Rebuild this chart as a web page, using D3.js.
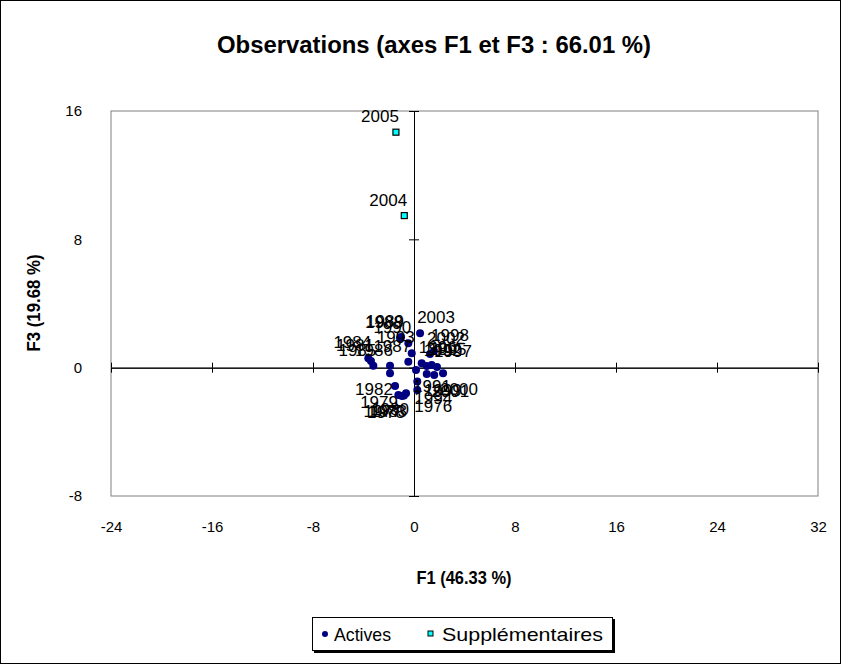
<!DOCTYPE html>
<html>
<head>
<meta charset="utf-8">
<script src="https://cdn.jsdelivr.net/npm/d3@7"></script>
<style>
  body { margin: 0; background: #fff; }
  svg text { font-family: Arial, "Liberation Sans", sans-serif; }
</style>
</head>
<body>
<div id="chart"></div>
<script>
// Active observations (F1, F3 coordinates)
var activeYears = [1976, 1977, 1978, 1979, 1980, 1981, 1982, 1983, 1984, 1985,
  1986, 1987, 1988, 1989, 1990, 1991, 1992, 1993, 1994, 1995,
  1996, 1997, 1998, 1999, 2000, 2001, 2002, 2003];
var activeF1 = [0.26, -1.24, -0.95, -1.50, -0.63, -3.41, -1.90, -0.79, -3.62, -3.22,
  -1.90, -0.45, -1.11, -1.03, -0.45, 0.16, 1.01, -0.18, 0.26, 1.40,
  0.61, 1.82, 1.58, 1.01, 2.30, 1.60, 1.27, 0.48];
var activeF3 = [-1.39, -1.70, -1.76, -1.14, -1.60, 0.42, -0.35, -1.73, 0.59, 0.12,
  0.12, 0.37, 1.85, 1.91, 1.52, -0.14, 0.11, 0.90, -0.87, 0.17,
  0.27, 0.04, 1.04, -0.39, -0.35, -0.46, 0.85, 2.14];

// Supplementary observations
var suppYears = [2004, 2005];
var suppF1 = [-0.77, -1.43];
var suppF3 = [9.48, 14.68];

var xTicks = [-24, -16, -8, 0, 8, 16, 24, 32];
var yTicks = [-8, 0, 8, 16];

var width = 842, height = 664;
var plotLeft = 111, plotRight = 818, plotTop = 111, plotBottom = 496;

var svg = d3.select('#chart')
  .append('svg')
  .attr('width', width)
  .attr('height', height);

// chart border
svg.append('rect')
  .attr('x', 0.5).attr('y', 0.5)
  .attr('width', width - 2).attr('height', height - 1)
  .attr('fill', '#fff')
  .attr('stroke', '#000')
  .attr('stroke-width', 1);

var x = d3.scaleLinear().domain([-24, 32]).range([plotLeft, plotRight]);
var y = d3.scaleLinear().domain([-8, 16]).range([plotBottom, plotTop]);

// plot area
svg.append('rect')
  .attr('x', plotLeft).attr('y', plotTop)
  .attr('width', plotRight - plotLeft).attr('height', plotBottom - plotTop)
  .attr('fill', '#fff')
  .attr('stroke', '#808080')
  .attr('stroke-width', 1);

var fmt = d => String(d); // plain hyphen minus, like the original

// tick labels along the plot edges
svg.append('g')
  .attr('transform', 'translate(0,' + plotBottom + ')')
  .call(d3.axisBottom(x).tickValues(xTicks).tickFormat(fmt).tickSize(0).tickPadding(25))
  .call(g => g.select('.domain').remove())
  .selectAll('text')
  .style('font-size', '15px')
  .attr('fill', '#000');

svg.append('g')
  .attr('transform', 'translate(' + plotLeft + ',0)')
  .call(d3.axisLeft(y).tickValues(yTicks).tickFormat(fmt).tickSize(0).tickPadding(29))
  .call(g => g.select('.domain').remove())
  .selectAll('text')
  .style('font-size', '15px')
  .attr('fill', '#000');

// axes crossing at the origin, ticks on both sides
function crossAxis(g, axis) {
  g.call(axis)
    .call(s => s.selectAll('text').remove())
    .call(s => s.select('.domain').attr('stroke', '#000'))
    .call(s => s.selectAll('line').attr('stroke', '#000'));
}
svg.append('g').attr('transform', 'translate(0,' + y(0) + ')')
  .call(g => crossAxis(g, d3.axisBottom(x).tickValues(xTicks).tickSizeInner(5).tickSizeOuter(0)));
svg.append('g').attr('transform', 'translate(0,' + y(0) + ')')
  .call(g => crossAxis(g, d3.axisTop(x).tickValues(xTicks).tickSizeInner(5).tickSizeOuter(0)));
svg.append('g').attr('transform', 'translate(' + x(0) + ',0)')
  .call(g => crossAxis(g, d3.axisLeft(y).tickValues(yTicks).tickSizeInner(5).tickSizeOuter(0)));
svg.append('g').attr('transform', 'translate(' + x(0) + ',0)')
  .call(g => crossAxis(g, d3.axisRight(y).tickValues(yTicks).tickSizeInner(5).tickSizeOuter(0)));

var active = activeYears.map((yr, i) => ({ name: yr, f1: activeF1[i], f3: activeF3[i] }));
var supp = suppYears.map((yr, i) => ({ name: yr, f1: suppF1[i], f3: suppF3[i] }));

// points
svg.append('g').selectAll('circle')
  .data(active)
  .join('circle')
  .attr('cx', d => x(d.f1))
  .attr('cy', d => y(d.f3))
  .attr('r', 4)
  .attr('fill', '#000080');

svg.append('g').selectAll('rect')
  .data(supp)
  .join('rect')
  .attr('x', d => x(d.f1) - 3)
  .attr('y', d => y(d.f3) - 3)
  .attr('width', 6)
  .attr('height', 6)
  .attr('fill', '#00ffff')
  .attr('stroke', '#000')
  .attr('stroke-width', 1.2);

// labels pushed away from origin, diagonally
var off = 16;
svg.append('g').selectAll('text')
  .data(active.concat(supp))
  .join('text')
  .attr('x', d => x(d.f1) + (d.f1 >= 0 ? off : -off))
  .attr('y', d => y(d.f3) + (d.f3 >= 0 ? -off : off) + 6)
  .attr('text-anchor', 'middle')
  .style('font-size', '17px')
  .attr('fill', '#000')
  .text(d => d.name);

// title
svg.append('text')
  .attr('x', 434)
  .attr('y', 53)
  .attr('text-anchor', 'middle')
  .attr('textLength', 434)
  .attr('lengthAdjust', 'spacingAndGlyphs')
  .style('font-size', '23px')
  .style('font-weight', 'bold')
  .text('Observations (axes F1 et F3 : 66.01 %)');

// axis titles
svg.append('text')
  .attr('x', 464)
  .attr('y', 584)
  .attr('text-anchor', 'middle')
  .attr('textLength', 95)
  .attr('lengthAdjust', 'spacingAndGlyphs')
  .style('font-size', '19px')
  .style('font-weight', 'bold')
  .text('F1 (46.33 %)');

svg.append('text')
  .attr('transform', 'translate(40,303) rotate(-90)')
  .attr('text-anchor', 'middle')
  .attr('textLength', 97)
  .attr('lengthAdjust', 'spacingAndGlyphs')
  .style('font-size', '19px')
  .style('font-weight', 'bold')
  .text('F3 (19.68 %)');

// legend
var legend = svg.append('g');
legend.append('rect')
  .attr('x', 314).attr('y', 619)
  .attr('width', 301).attr('height', 34)
  .attr('fill', '#000');
legend.append('rect')
  .attr('x', 312.5).attr('y', 617.5)
  .attr('width', 300).attr('height', 33)
  .attr('fill', '#fff')
  .attr('stroke', '#000');
legend.append('circle')
  .attr('cx', 325).attr('cy', 634).attr('r', 3)
  .attr('fill', '#000080');
legend.append('text')
  .attr('x', 334).attr('y', 641)
  .attr('textLength', 57)
  .attr('lengthAdjust', 'spacingAndGlyphs')
  .style('font-size', '19px')
  .text('Actives');
legend.append('rect')
  .attr('x', 428).attr('y', 631).attr('width', 5).attr('height', 5)
  .attr('fill', '#00ffff').attr('stroke', '#000').attr('stroke-width', 1);
legend.append('text')
  .attr('x', 442).attr('y', 641)
  .attr('textLength', 161)
  .attr('lengthAdjust', 'spacingAndGlyphs')
  .style('font-size', '19px')
  .text('Supplémentaires');
</script>
</body>
</html>
